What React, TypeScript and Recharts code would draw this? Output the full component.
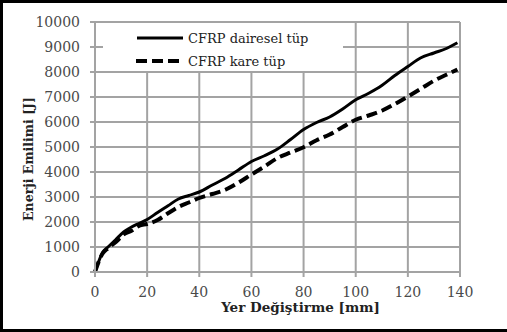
import React from 'react'
import { LineChart, Line, XAxis, YAxis, CartesianGrid, Legend, Label } from 'recharts'

// displacement [mm]
const displacement = [0, 1, 3, 5, 8, 11, 14, 17, 20, 24, 28, 32, 36, 40, 45, 50, 55, 60, 65, 70, 75, 80, 85, 90, 95, 100, 105, 110, 115, 120, 125, 130, 135, 139]
// energy absorbed [J]
const daireselTup = [0, 300, 800, 1000, 1300, 1600, 1800, 1950, 2100, 2380, 2650, 2920, 3060, 3200, 3480, 3750, 4080, 4420, 4650, 4920, 5300, 5700, 5980, 6200, 6520, 6890, 7150, 7460, 7860, 8220, 8570, 8760, 8950, 9170]
const kareTup = [0, 300, 750, 950, 1200, 1500, 1650, 1850, 1920, 2080, 2350, 2600, 2780, 2960, 3120, 3290, 3570, 3900, 4220, 4560, 4780, 4990, 5270, 5500, 5800, 6090, 6260, 6450, 6720, 7020, 7330, 7650, 7900, 8100]

const xTicks = [0, 20, 40, 60, 80, 100, 120, 140]
const yTicks = [0, 1000, 2000, 3000, 4000, 5000, 6000, 7000, 8000, 9000, 10000]

const seriesNames = ['CFRP dairesel tüp', 'CFRP kare tüp']

const data = displacement.map((x, i) => ({ x, dairesel: daireselTup[i], kare: kareTup[i] }))

const FONT = '"DejaVu Serif"'
const GRID = '#a3a3a3'

function renderLegend() {
  return (
    <svg width={240} height={48} style={{ display: 'block' }}>
      <line x1={34} x2={80} y1={15} y2={15} stroke="#000" strokeWidth={3} />
      <text x={85} y={15} dy="0.35em" fontFamily={FONT} fontSize={13} fill="#222">
        {seriesNames[0]}
      </text>
      <line x1={33} x2={80} y1={38} y2={38} stroke="#000" strokeWidth={4} strokeDasharray="11 5" />
      <text x={85} y={38} dy="0.35em" fontFamily={FONT} fontSize={13} fill="#222">
        {seriesNames[1]}
      </text>
    </svg>
  )
}

function XTitle(props: any) {
  const { viewBox } = props
  return (
    <text x={viewBox.x + viewBox.width / 2 + 23} y={viewBox.y + 40} textAnchor="middle"
      fontFamily={FONT} fontSize={13.5} fontWeight="bold" fill="#222">
      Yer Değiştirme [mm]
    </text>
  )
}

function YTitle(props: any) {
  const { viewBox } = props
  const cx = viewBox.x + 28
  const cy = viewBox.y + viewBox.height / 2 + 12
  return (
    <text x={cx} y={cy} textAnchor="middle" dominantBaseline="central" transform={`rotate(-90 ${cx} ${cy})`}
      fontFamily={FONT} fontSize={12.5} fontWeight="bold" fill="#222">
      Enerji Emilimi [J]
    </text>
  )
}

export default function App() {
  return (
    <div style={{ position: 'absolute', left: 0, top: 0, width: 507, height: 332, background: '#fff' }}>
      <div style={{
        position: 'absolute', left: 0, top: 0, width: 507, height: 332, boxSizing: 'border-box',
        borderTop: '3px solid #000', borderLeft: '3px solid #000', borderBottom: '3px solid #000',
      }} />
      <div style={{ position: 'absolute', left: 0, top: 0 }}>
        <LineChart width={507} height={332} data={data} margin={{ top: 22, right: 47, left: 0, bottom: 0 }}>
          <CartesianGrid stroke={GRID} strokeWidth={2} />
          <XAxis dataKey="x" type="number" domain={[0, 140]} ticks={xTicks} height={60}
            stroke={GRID} strokeWidth={2} tickSize={5} tickMargin={10}
            tick={{ fontFamily: FONT, fontSize: 14, fill: '#4a4a4a' }}>
            <Label content={XTitle} />
          </XAxis>
          <YAxis type="number" domain={[0, 10000]} ticks={yTicks} width={95} interval={0}
            stroke={GRID} strokeWidth={2} tickSize={5} tickMargin={10}
            tick={{ fontFamily: FONT, fontSize: 14, fill: '#4a4a4a' }}>
            <Label content={YTitle} />
          </YAxis>
          <Legend content={renderLegend} layout="horizontal" verticalAlign="middle" align="center"
            wrapperStyle={{ left: 103, top: 23, width: 240, height: 48, background: '#fff' }} />
          <Line type="monotone" dataKey="dairesel" name={seriesNames[0]} stroke="#000" strokeWidth={3}
            dot={false} activeDot={false} isAnimationActive={false} />
          <Line type="monotone" dataKey="kare" name={seriesNames[1]} stroke="#000" strokeWidth={4}
            strokeDasharray="11 5" dot={false} activeDot={false} isAnimationActive={false} />
        </LineChart>
      </div>
    </div>
  )
}
